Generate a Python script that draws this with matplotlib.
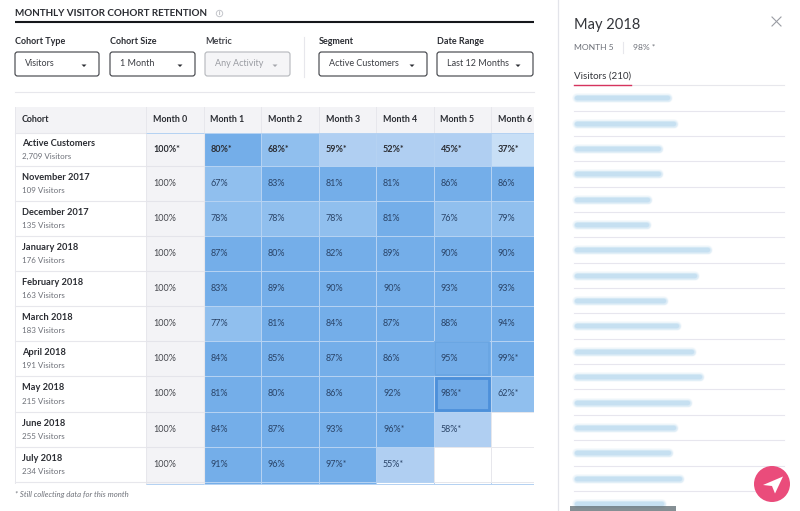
import numpy as np
import matplotlib
matplotlib.use("Agg")
import matplotlib.pyplot as plt
from matplotlib.colors import ListedColormap, BoundaryNorm
from matplotlib.patches import FancyBboxPatch, Rectangle, Circle, Polygon

plt.rcParams['font.family'] = ['Lato', 'DejaVu Sans']

title = "MONTHLY VISITOR COHORT RETENTION"
months = ["Month 0", "Month 1", "Month 2", "Month 3", "Month 4", "Month 5", "Month 6"]
cohorts = ["Active Customers", "November 2017", "December 2017", "January 2018", "February 2018",
           "March 2018", "April 2018", "May 2018", "June 2018", "July 2018"]
visitors = ["2,709", "109", "135", "176", "163", "183", "191", "215", "255", "234"]
active = [100, 80, 68, 59, 52, 45, 37]
nov17 = [100, 67, 83, 81, 81, 86, 86]
dec17 = [100, 78, 78, 78, 81, 76, 79]
jan18 = [100, 87, 80, 82, 89, 90, 90]
feb18 = [100, 83, 89, 90, 90, 93, 93]
mar18 = [100, 77, 81, 84, 87, 88, 94]
apr18 = [100, 84, 85, 87, 86, 95, 99]
may18 = [100, 81, 80, 86, 92, 98, 62]
jun18 = [100, 84, 87, 93, 96, 58, np.nan]
jul18 = [100, 91, 96, 97, 55, np.nan, np.nan]
next_row = [100, 85, 85, 85, np.nan, np.nan, np.nan]   # clipped row, only a sliver shows
first_starred = [0, 9, 9, 9, 9, 9, 6, 5, 4, 3]

filters = [("Cohort Type", "Visitors"), ("Cohort Size", "1 Month"), ("Metric", "Any Activity"),
           ("Segment", "Active Customers"), ("Date Range", "Last 12 Months")]
email_lengths = [97, 103, 88, 88, 77, 76, 137, 124, 93, 106, 121, 129, 117, 103, 98, 109, 91]

W, H = 800, 511
fig = plt.figure(figsize=(W / 100, H / 100), dpi=100, facecolor="white")
bg = fig.add_axes([0, 0, 1, 1])
bg.set_xlim(0, W); bg.set_ylim(H, 0); bg.axis("off")

DARK = "#2b2d33"; GREY = "#6d7078"; LINE = "#e7e7ec"; HEAD = "#f3f3f6"
CELL_TXT = "#2a4468"

# title
bg.text(15, 13.3, title, fontsize=7.1, fontweight="bold", color=DARK, va="center")
bg.add_patch(Circle((219.5, 13.5), 3.2, fc="none", ec="#c4c6cc", lw=0.7))
bg.text(219.5, 13.6, "i", fontsize=4.3, color="#8a8d94", ha="center", va="center")
bg.plot([15, 534], [22, 22], color="#15171b", lw=1.5, solid_capstyle="butt")

# filters
boxes = [(15, 99), (110, 195), (205, 290), (319, 427), (437, 533)]
for (label, val), (x0, x1) in zip(filters, boxes):
    disabled = label == "Metric"
    bg.text(x0, 42, label, fontsize=6.5, fontweight="bold", color="#45474d" if disabled else DARK, va="center")
    bg.add_patch(FancyBboxPatch((x0, 52), x1 - x0, 24, boxstyle="round,pad=0,rounding_size=2.5",
                                fc="#f5f5f7" if disabled else "white",
                                ec="#b5b7bc" if disabled else "#3b3d43", lw=0.8))
    bg.text(x0 + 10, 63.8, val, fontsize=6.5, color="#9a9ca2" if disabled else "#3c3e44", va="center")
    cx = x1 - 15
    bg.add_patch(Polygon([(cx - 2.5, 64.5), (cx + 2.5, 64.5), (cx, 67)],
                         fc="#a5a7ac" if disabled else "#2b2d33", ec="none"))
bg.plot([304, 304], [37, 77], color=LINE, lw=0.8)
bg.plot([15, 534], [92, 92], color=LINE, lw=0.8)

# table chrome
bg.add_patch(Rectangle((15, 107), 519, 26, fc=HEAD, ec="none"))
bg.text(22, 119.8, "Cohort", fontsize=6.4, fontweight="bold", color=DARK, va="center")
col_w = 57.5
for i, m in enumerate(months):
    bg.text(153 + i * col_w, 119.8, m, fontsize=6.4, fontweight="bold", color=DARK, va="center")
    bg.plot([146 + i * col_w] * 2, [107, 133], color=LINE, lw=0.7)

edges_y = np.array([133, 166, 201, 236, 271, 306, 341, 376, 412, 447, 482.5, 484.5])
for y in edges_y[:-1]:
    bg.plot([15, 146], [y, y], color=LINE, lw=0.8)
bg.plot([15, 15], [107, 483], color=LINE, lw=0.7)
for k, (name, v) in enumerate(zip(cohorts, visitors)):
    mid = (edges_y[k] + edges_y[k + 1]) / 2
    bg.text(22, mid - 6, name, fontsize=6.65, fontweight="bold", color=DARK, va="center")
    bg.text(22, mid + 7, f"{v} Visitors", fontsize=5.8, color=GREY, va="center")
bg.text(15, 494, "* Still collecting data for this month", fontsize=5.6, style="italic", color=GREY, va="center")

# heatmap
rows = [active, nov17, dec17, jan18, feb18, mar18, apr18, may18, jun18, jul18, next_row]
vals = np.array(rows, dtype=float)
hm = fig.add_axes([146 / W, 1 - 484.5 / H, (534 - 146) / W, (484.5 - 133) / H])
hm.set_xlim(0, 388 / col_w); hm.set_ylim(484.5, 133); hm.axis("off")
cmap = ListedColormap(["#c8dff6", "#b0cff2", "#90bfee", "#74aee9", HEAD])
norm = BoundaryNorm([0, 40, 60, 80, 99.5, 101], cmap.N)
x_edges = np.arange(8)
hm.pcolormesh(x_edges, edges_y, np.ma.masked_invalid(vals), cmap=cmap, norm=norm,
              edgecolors="#b5d2f2", linewidth=0.7)
# Month 0 and empty cells carry neutral rules
hm.vlines([0, 1], 133, 484.5, color=LINE, lw=0.8)
hm.hlines(edges_y[1:-1], 0, 1, color="#e4e4ea", lw=0.8)
hm.add_patch(Rectangle((5.03, 341.7), 0.94, 33.8, fc="#72ace8", ec="#69a5e3", lw=1.2, zorder=1))
hm.add_patch(Rectangle((5.04, 377.8), 0.92, 32.5, fc="#70aae7", ec="#4d90da", lw=2.0, zorder=1))
for k in range(10):
    for j in range(7):
        if np.isnan(vals[k, j]):
            hm.add_patch(Rectangle((j, edges_y[k]), 1, edges_y[k + 1] - edges_y[k], fc="white", ec=LINE, lw=0.7))
        else:
            star = "*" if j >= first_starred[k] else ""
            mid = (edges_y[k] + edges_y[k + 1]) / 2
            hm.text(j + 7 / col_w, mid, f"{int(vals[k, j])}%{star}", fontsize=6.5, va="center",
                    fontweight="bold" if k == 0 else "normal",
                    color=DARK if k == 0 else ("#46484e" if j == 0 else CELL_TXT))

# side panel
bg.plot([557.5, 557.5], [0, H], color="#e3e4ea", lw=0.9)
bg.text(574, 24.5, "May 2018", fontsize=10.5, color="#33353a", va="center")
bg.plot([772, 781], [17, 26], color="#9a9ca4", lw=0.8)
bg.plot([772, 781], [26, 17], color="#9a9ca4", lw=0.8)
bg.text(574, 48, "MONTH 5", fontsize=6.1, color=GREY, va="center")
bg.plot([623, 623], [42, 53], color=LINE, lw=0.8)
bg.text(633, 48, "98% *", fontsize=6.1, color=GREY, va="center")
bg.text(574, 75.7, "Visitors (210)", fontsize=7, color="#33353a", va="center")
bg.plot([574, 784], [85.3, 85.3], color=LINE, lw=0.8)
bg.plot([574, 631], [85, 85], color="#d6335e", lw=1.0)

# blurred addresses
row_step = 25.35
for n, length in enumerate(email_lengths):
    yc = 98.3 + n * row_step
    for lw, a in [(7, 0.05), (6, 0.07), (5, 0.09), (4, 0.11), (3, 0.13)]:
        bg.plot([577, 571 + length], [yc, yc], color="#6db2e0", lw=lw, alpha=a,
                solid_capstyle="round", zorder=2)
    if n < 16:
        bg.plot([574, 784], [yc + 12.3, yc + 12.3], color="#e7e6ee", lw=0.8, zorder=1)
bg.add_patch(Rectangle((570, 506.5), 106, 5, fc="#5c6a70", ec="none", alpha=0.75, zorder=3))

# action button
bg.add_patch(Circle((772, 484), 18, fc="#ea4c7b", ec="none", zorder=5))
bg.add_patch(Polygon([(763, 485), (783, 476.5), (775, 493.5), (772, 486)], fc="white", ec="none", zorder=6))

fig.savefig("out.png", dpi=100, facecolor="white")
